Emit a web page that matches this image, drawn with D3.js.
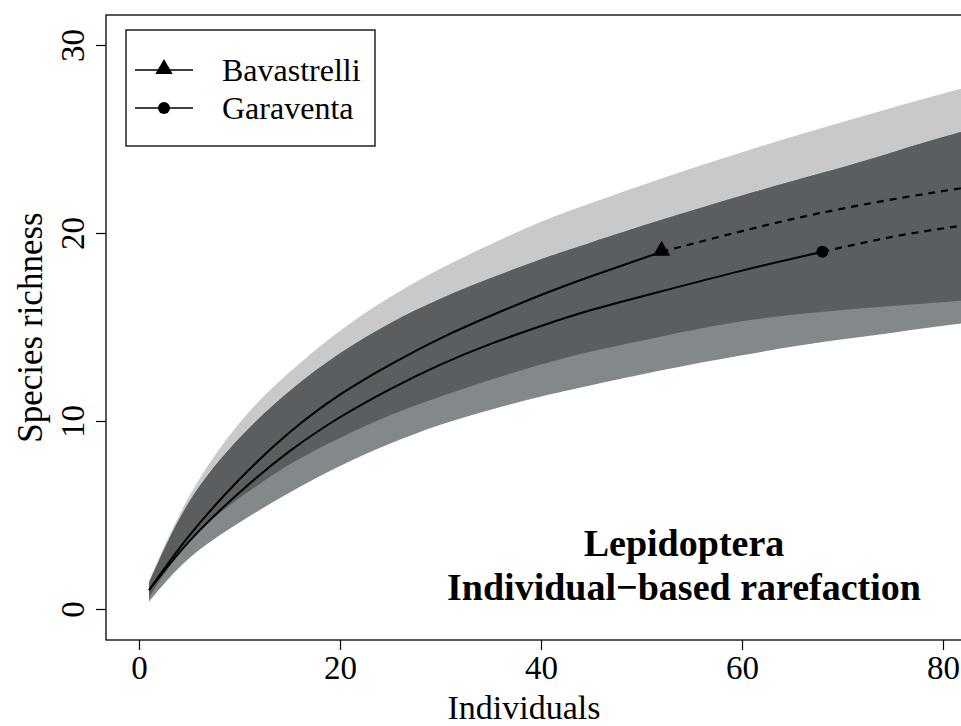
<!DOCTYPE html>
<html>
<head>
  <script src="https://cdnjs.cloudflare.com/ajax/libs/d3/7.8.5/d3.min.js"></script>
  <style>
    * { margin: 0; padding: 0; }
    body { background: white; }
    text { font-family: "Liberation Serif", "DejaVu Serif", serif; fill: black; }
  </style>
</head>
<body>
  <script>
    // Bavastrelli: rarefied (<= 52) and extrapolated species richness
    var bavN   = [1, 5, 10, 15, 20, 25, 30, 35, 40, 45, 52, 60, 70, 82, 90];
    var bavS   = [1.0, 3.9, 6.9, 9.4, 11.4, 13.0, 14.4, 15.6, 16.7, 17.7, 19.0, 20.1, 21.3, 22.4, 23.0];
    var bavHi  = [1.5, 6.0, 9.9, 12.6, 14.8, 16.6, 18.1, 19.4, 20.6, 21.6, 22.9, 24.3, 25.9, 27.7, 28.7];
    var bavLo  = [0.6, 3.6, 5.9, 7.7, 9.1, 10.3, 11.3, 12.2, 13.0, 13.7, 14.5, 15.3, 15.9, 16.4, 16.7];
    var bavObs = 52;

    // Garaventa
    var garN   = [1, 5, 10, 15, 20, 25, 30, 35, 40, 45, 52, 60, 68, 75, 82, 90];
    var garS   = [1.0, 3.6, 6.2, 8.4, 10.2, 11.7, 13.0, 14.1, 15.05, 15.9, 16.9, 18.0, 19.0, 19.8, 20.4, 21.0];
    var garHi  = [1.4, 5.7, 9.1, 11.6, 13.6, 15.2, 16.5, 17.6, 18.6, 19.5, 20.7, 22.0, 23.2, 24.3, 25.4, 26.4];
    var garLo  = [0.4, 2.7, 4.6, 6.2, 7.6, 8.8, 9.8, 10.6, 11.3, 11.9, 12.7, 13.5, 14.2, 14.7, 15.2, 15.6];
    var garObs = 68;

    var xTicks = [0, 20, 40, 60, 80];
    var yTicks = [0, 10, 20, 30];
    var names = ["Bavastrelli", "Garaventa"];

    var w = 961, h = 726;
    // plot box (right side runs off the picture)
    var boxL = 106, boxT = 15, boxB = 640, boxR = 1000;

    var x = d3.scaleLinear().domain([0, 80]).range([139, 943]);
    var y = d3.scaleLinear().domain([0, 30]).range([609, 45]);

    var svg = d3.select("body").append("svg")
      .attr("width", w)
      .attr("height", h);

    var defs = svg.append("defs");
    defs.append("clipPath").attr("id", "plotclip")
      .append("rect")
      .attr("x", boxL).attr("y", boxT)
      .attr("width", boxR - boxL).attr("height", boxB - boxT);

    function rows(n, s, lo, hi) {
      return n.map(function(d, i) { return {n: d, s: s[i], lo: lo[i], hi: hi[i]}; });
    }
    var bav = rows(bavN, bavS, bavLo, bavHi);
    var gar = rows(garN, garS, garLo, garHi);

    var band = d3.area()
      .x(function(d) { return x(d.n); })
      .y0(function(d) { return y(d.lo); })
      .y1(function(d) { return y(d.hi); })
      .curve(d3.curveNatural);

    var line = d3.line()
      .x(function(d) { return x(d.n); })
      .y(function(d) { return y(d.s); })
      .curve(d3.curveNatural);

    // overlap of the two bands is drawn darker
    defs.append("clipPath").attr("id", "bavclip")
      .append("path").attr("d", band(bav));

    var plot = svg.append("g").attr("clip-path", "url(#plotclip)");

    plot.append("path").attr("d", band(bav)).attr("fill", "#c9c9c9");
    plot.append("path").attr("d", band(gar)).attr("fill", "#83888a");
    plot.append("g").attr("clip-path", "url(#bavclip)")
      .append("path").attr("d", band(gar)).attr("fill", "#5a5e60");

    // curves: solid up to the observed sample, dashed beyond
    [[bav, bavObs], [gar, garObs]].forEach(function(p) {
      var data = p[0], obs = p[1];
      plot.append("path")
        .attr("d", line(data.filter(function(d) { return d.n <= obs; })))
        .attr("fill", "none").attr("stroke", "black").attr("stroke-width", 2);
      plot.append("path")
        .attr("d", line(data.filter(function(d) { return d.n >= obs; })))
        .attr("fill", "none").attr("stroke", "black").attr("stroke-width", 2.2)
        .attr("stroke-dasharray", "7,6");
    });

    // observed points
    var tri = d3.symbol().type(d3.symbolTriangle).size(130);
    var bavEnd = bav.filter(function(d) { return d.n == bavObs; })[0];
    var garEnd = gar.filter(function(d) { return d.n == garObs; })[0];
    plot.append("path").attr("d", tri)
      .attr("transform", "translate(" + x(bavEnd.n) + "," + (y(bavEnd.s) - 1) + ")")
      .attr("fill", "black");
    plot.append("circle")
      .attr("cx", x(garEnd.n)).attr("cy", y(garEnd.s)).attr("r", 6)
      .attr("fill", "black");

    // box
    svg.append("rect")
      .attr("x", boxL).attr("y", boxT)
      .attr("width", boxR - boxL).attr("height", boxB - boxT)
      .attr("fill", "none").attr("stroke", "black").attr("stroke-width", 1.3);

    // x axis
    var xa = svg.append("g")
      .attr("transform", "translate(0," + boxB + ")")
      .call(d3.axisBottom(x).tickValues(xTicks).tickSize(10));
    xa.select(".domain").remove();
    xa.selectAll("line").attr("stroke-width", 1.2);
    xa.selectAll("text")
      .attr("font-size", "33px")
      .style("font-family", "Liberation Serif")
      .attr("dy", null)
      .attr("y", 39);

    // y axis, labels parallel to the axis
    var ya = svg.append("g")
      .attr("transform", "translate(" + boxL + ",0)")
      .call(d3.axisLeft(y).tickValues(yTicks).tickSize(10));
    ya.select(".domain").remove();
    ya.selectAll("line").attr("stroke-width", 1.2);
    ya.selectAll("text")
      .attr("font-size", "33px")
      .style("font-family", "Liberation Serif")
      .attr("x", null).attr("dy", null)
      .attr("text-anchor", "middle")
      .attr("transform", "translate(-22,0) rotate(-90)")
      .attr("y", 0);

    svg.append("text")
      .attr("x", 524).attr("y", 719)
      .attr("text-anchor", "middle")
      .attr("font-size", "34px")
      .text("Individuals");

    svg.append("text")
      .attr("transform", "translate(42," + ((boxT + boxB) / 2) + ") rotate(-90)")
      .attr("text-anchor", "middle")
      .attr("font-size", "35px")
      .text("Species richness");

    // in-plot title
    var title = svg.append("text")
      .attr("text-anchor", "middle")
      .attr("font-size", "38px")
      .attr("font-weight", "bold");
    title.append("tspan").attr("x", 684).attr("y", 556).text("Lepidoptera");
    title.append("tspan").attr("x", 684).attr("y", 600).text("Individual\u2212based rarefaction");

    // legend
    var lg = svg.append("g");
    lg.append("rect")
      .attr("x", 126).attr("y", 30).attr("width", 249).attr("height", 116)
      .attr("fill", "white").attr("stroke", "black").attr("stroke-width", 1.3);
    names.forEach(function(name, i) {
      var ly = 70 + i * 38;
      lg.append("line")
        .attr("x1", 135).attr("x2", 193).attr("y1", ly).attr("y2", ly)
        .attr("stroke", "black").attr("stroke-width", 1.5);
      if (i == 0) {
        lg.append("path").attr("d", tri)
          .attr("transform", "translate(164," + (ly - 1) + ")").attr("fill", "black");
      } else {
        lg.append("circle").attr("cx", 164).attr("cy", ly).attr("r", 6).attr("fill", "black");
      }
      lg.append("text")
        .attr("x", 222).attr("y", ly + 11)
        .attr("font-size", "32px")
        .text(name);
    });
  </script>
</body>
</html>
